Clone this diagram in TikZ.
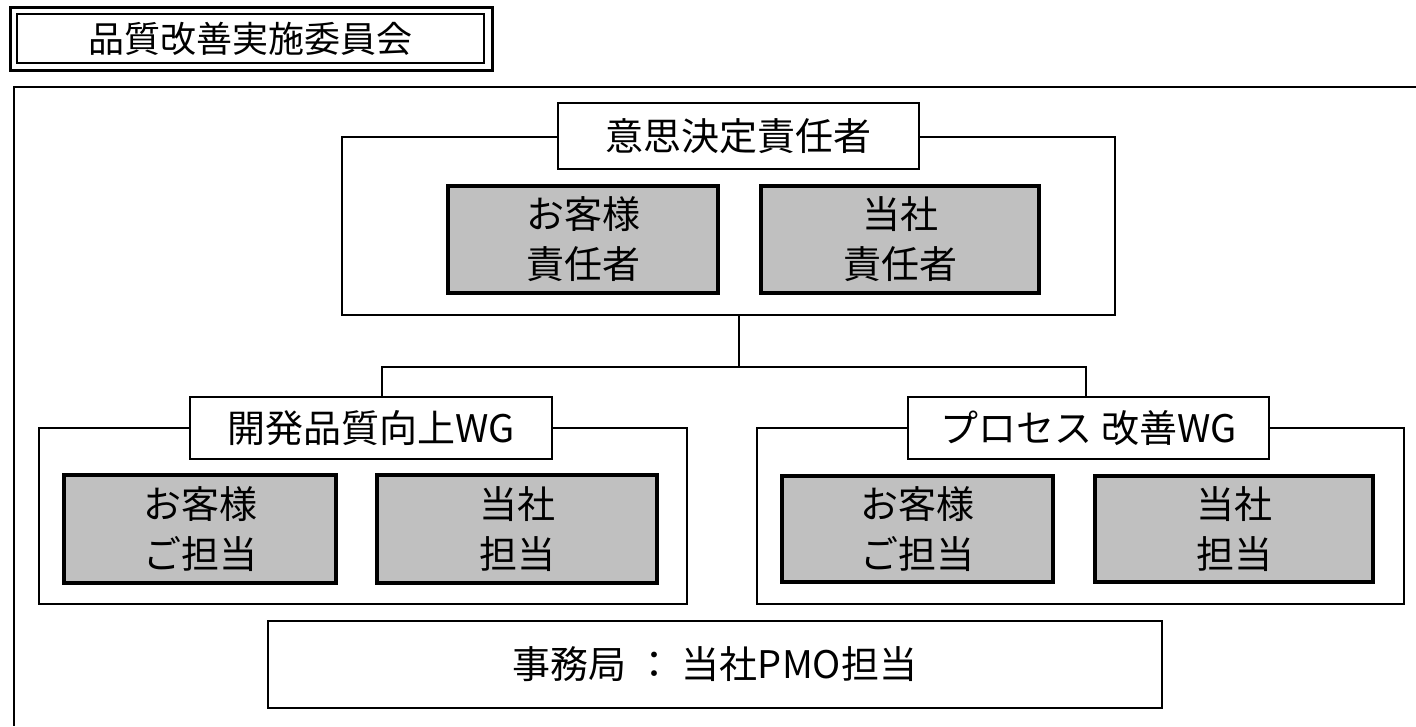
\documentclass[tikz,border=0pt]{standalone}
\usepackage{fontspec}
\setmainfont{Noto Sans CJK JP}
\begin{document}
\begin{tikzpicture}[x=1pt,y=-1pt,
  grp/.style={draw=black,line width=2pt,inner sep=0pt},
  lbl/.style={draw=black,fill=white,line width=2pt,inner sep=0pt,font=\fontsize{38}{44}\selectfont},
  gbox/.style={draw=black,fill=gray75,line width=4.5pt,inner sep=0pt,align=center,font=\fontsize{38}{50}\selectfont},
  link/.style={draw=black,line width=2pt}
]
\definecolor{gray75}{HTML}{C0C0C0}
\useasboundingbox (0,0) rectangle (1416,726);
% outer committee frame (clipped at right and bottom)
\coordinate (ftr) at (1416,87);
\coordinate (ftl) at (14,87);
\coordinate (fbl) at (14,726);
\draw[line width=2.5pt] (ftr) -- (ftl) -- (fbl);
% title
\node[draw=black,line width=2pt,minimum width=467,minimum height=49,inner sep=0pt,font=\fontsize{36}{40}\selectfont] (title) at (250.5,38.5) {品質改善実施委員会};
\draw[line width=3pt] ([shift={(-6,-6)}]title.north west) rectangle ([shift={(7,6)}]title.south east);
% decision group
\node[grp,minimum width=773,minimum height=178] (decgrp) at (728.5,226) {};
\node[lbl,minimum width=361,minimum height=66] (declbl) at (738.5,136) {意思決定責任者};
\node[gbox,minimum width=270,minimum height=107] (dec1) at (583,239.5) {お客様\\責任者};
\node[gbox,minimum width=278,minimum height=107] (dec2) at (900,239.5) {当社\\責任者};
% WG1
\node[grp,minimum width=648,minimum height=176] (wg1grp) at (363,516) {};
\node[lbl,minimum width=362,minimum height=62] (wg1lbl) at (371,428) {開発品質向上WG};
\node[gbox,minimum width=272,minimum height=108] (wg1a) at (200,529) {お客様\\ご担当};
\node[gbox,minimum width=280,minimum height=108] (wg1b) at (517,529) {当社\\担当};
% WG2
\node[grp,minimum width=647,minimum height=176] (wg2grp) at (1080.5,516) {};
\node[lbl,minimum width=361,minimum height=62] (wg2lbl) at (1088.5,428) {プロセス 改善WG};
\node[gbox,minimum width=271,minimum height=106] (wg2a) at (917.5,529) {お客様\\ご担当};
\node[gbox,minimum width=278,minimum height=106] (wg2b) at (1234,529) {当社\\担当};
% secretariat
\node[grp,minimum width=894,minimum height=87,font=\fontsize{38}{44}\selectfont] (pmo) at (715,664.5) {事務局 ： 当社PMO担当};
% connectors
\coordinate (jmid) at (738.5,367);
\coordinate (jl) at (382,367);
\coordinate (jr) at (1086,367);
\draw[link] (declbl.center |- decgrp.south) -- (jmid);
\draw[link] (jl |- wg1lbl.north) -- (jl) -- (jr) -- (jr |- wg2lbl.north);
\end{tikzpicture}
\end{document}
